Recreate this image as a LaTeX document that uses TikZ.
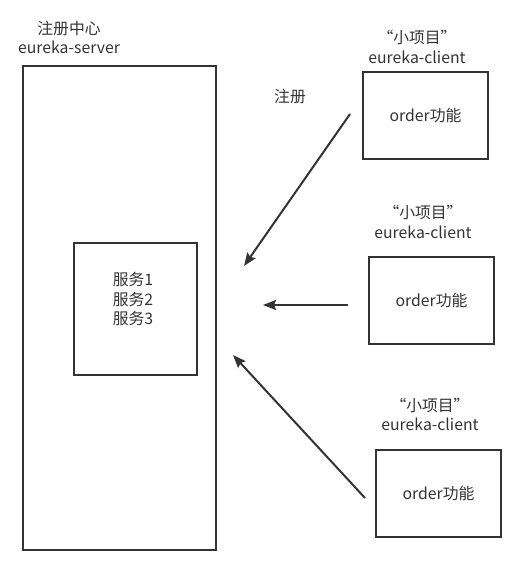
\documentclass[tikz,border=0pt]{standalone}
\usepackage{fontspec}
\setmainfont{Noto Sans CJK SC}
\usetikzlibrary{arrows.meta}
\definecolor{ink}{HTML}{333333}
\begin{document}
\begin{tikzpicture}[x=1pt,y=-1pt,
  box/.style={draw=ink, line width=2pt, inner sep=0pt, anchor=north west},
  txt/.style={text=ink, font=\fontsize{15.8pt}{19.5pt}\selectfont, align=center, inner sep=0pt},
  arr/.style={draw=ink, line width=2pt, -{Stealth[length=13pt,width=10pt,inset=2pt]}}]
\useasboundingbox (0,0) rectangle (521,573);
% server
\node[box, minimum width=193pt, minimum height=484pt] (server) at (22,65) {};
\node[txt] (stitle) at (69,37.5) {注册中心\\eureka-server};
\node[box, minimum width=123pt, minimum height=132pt] (inner) at (73,242) {};
\node[txt] (svc) at (133,299) {服务1\\服务2\\服务3};
% clients
\node[box, minimum width=125pt, minimum height=87pt] (c1) at (362,71) {};
\node[txt] at (c1.center) {order功能};
\node[txt] (l1) at (417,47) {“小项目”\\eureka-client};
\node[box, minimum width=125pt, minimum height=87pt] (c2) at (368,256) {};
\node[txt] at (c2.center) {order功能};
\node[txt] (l2) at (423,222) {“小项目”\\eureka-client};
\node[box, minimum width=125pt, minimum height=87pt] (c3) at (375,449) {};
\node[txt] at (c3.center) {order功能};
\node[txt] (l3) at (430,414.5) {“小项目”\\eureka-client};
\node[txt] (reg) at (290,97) {注册};
% arrows
\coordinate (a1s) at (350,114);
\coordinate (a1e) at (244,266);
\coordinate (a2s) at (348,305);
\coordinate (a2e) at (263,305);
\coordinate (a3s) at (365,498);
\coordinate (a3e) at (233,355);
\draw[arr] (a1s) -- (a1e);
\draw[arr] (a2s) -- (a2e);
\draw[arr] (a3s) -- (a3e);
\end{tikzpicture}
\end{document}
